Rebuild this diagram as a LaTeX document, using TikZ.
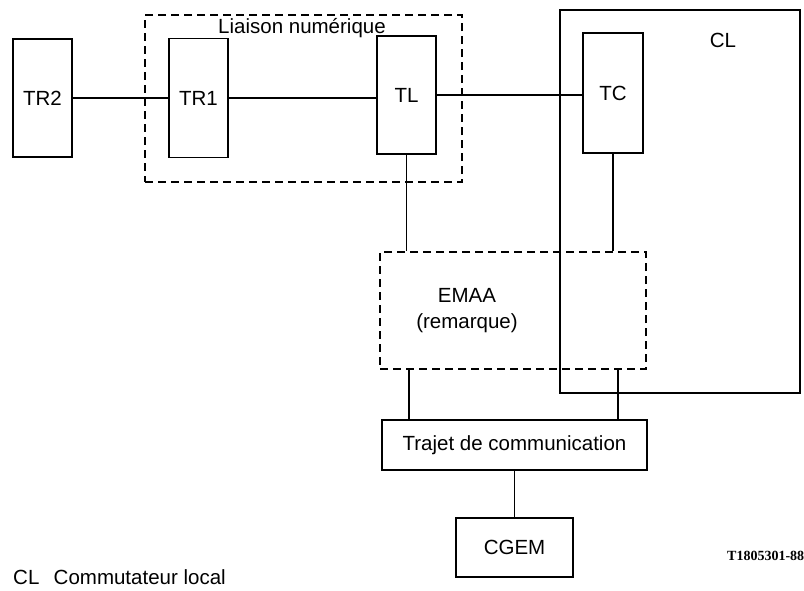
\documentclass[tikz,border=0pt]{standalone}
\usepackage{fontspec}
\setmainfont{Liberation Sans}
\newfontfamily\serifb{Liberation Serif}
\begin{document}
\begin{tikzpicture}[x=1pt,y=-1pt,
  box/.style={draw,line width=1.8pt,rectangle,inner sep=0pt},
  dbox/.style={draw,line width=1.6pt,dash pattern=on 8pt off 5pt,rectangle,inner sep=0pt},
  conn/.style={line width=1.6pt},
  lbl/.style={font=\fontsize{20.5}{26}\selectfont,inner sep=0pt}]
\useasboundingbox (0,0) rectangle (804,590);
% frames
\node[box,minimum width=240pt,minimum height=383pt] (CL) at (680,201.5) {};
\node[dbox,minimum width=317pt,minimum height=167pt] (LN) at (303.5,98.5) {};
\node[dbox,minimum width=266pt,minimum height=117pt] (EMAA) at (513,310.5) {};
% boxes
\node[box,lbl,minimum width=59pt,minimum height=118pt] (TR2) at (42.5,98) {TR2};
\node[box,lbl,minimum width=59pt,minimum height=119pt] (TR1) at (198.5,98) {TR1};
\node[box,lbl,minimum width=59pt,minimum height=118pt] (TL) at (406.5,95) {TL};
\node[box,lbl,minimum width=60pt,minimum height=120pt] (TC) at (613,93) {TC};
\node[box,lbl,minimum width=265pt,minimum height=50pt] (TRJ) at (514.5,445) {Trajet de communication};
\node[box,lbl,minimum width=117pt,minimum height=59pt] (CGEM) at (514.5,547.5) {CGEM};
% labels
\node[lbl] (LNlab) at (302,28) {Liaison numérique};
\node[lbl] (CLlab) at (723,40) {CL};
\node[lbl,align=center] (EMAAlab) at (467,311) {EMAA\\(remarque)};
\node[lbl,anchor=west] (legend) at (13,577) {CL\hspace{0.7em}Commutateur local};
\node[anchor=west,inner sep=0pt,font=\serifb\bfseries\fontsize{14}{16}\selectfont] (ref) at (727,556) {T1805301-88};
% connectors
\draw[conn] (TR2.east) -- (TR1.west);
\draw[conn] (TR1.east) -- (TR1.east -| TL.west);
\draw[conn] (TL.east) -- (TL.east -| TC.west);
\draw[conn] (TL.south) -- (TL.south |- EMAA.north);
\draw[conn] (TC.south) -- (TC.south |- EMAA.north);
\coordinate (e1) at ([xshift=30pt]EMAA.south west);
\coordinate (e2) at ([xshift=-29pt]EMAA.south east);
\draw[conn] (e1) -- (e1 |- TRJ.north);
\draw[conn] (e2) -- (e2 |- TRJ.north);
\draw[conn] (TRJ.south) -- (CGEM.north);
\end{tikzpicture}
\end{document}
